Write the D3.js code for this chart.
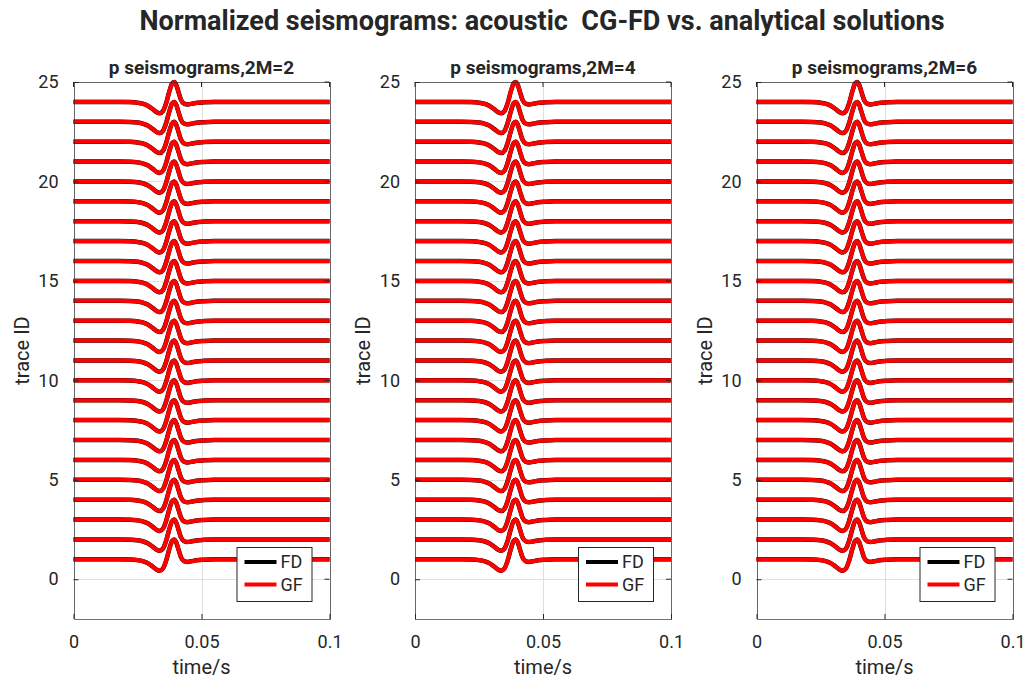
<!DOCTYPE html>
<html>
<head>
<meta charset="utf-8">
<script src="https://cdn.jsdelivr.net/npm/d3@7"></script>
<style>
  body { margin: 0; background: #fff; }
  text { font-family: Roboto, "Liberation Sans", sans-serif; fill: #262626; white-space: pre; }
</style>
</head>
<body>
<svg id="fig" width="1027" height="684"></svg>
<script>
// chart data
var figTitle = "Normalized seismograms: acoustic  CG-FD vs. analytical solutions";
var panelTitles = ["p seismograms,2M=2", "p seismograms,2M=4", "p seismograms,2M=6"];
var traceIds = [1, 2, 3, 4, 5, 6, 7, 8, 9, 10, 11, 12, 13, 14, 15, 16, 17, 18, 19, 20, 21, 22, 23, 24];
var xTicks = [0, 0.05, 0.1];
var xTickLabels = ["0", "0.05", "0.1"];
var yTicks = [0, 5, 10, 15, 20, 25];
var legendNames = ["FD", "GF"];

// normalized wavelet (time in s, amplitude)
var waveTime = [0, 0.018, 0.022, 0.025, 0.027, 0.029, 0.031, 0.0325, 0.0337, 0.035, 0.0362,
                0.0375, 0.0385, 0.0393, 0.0401, 0.041, 0.042, 0.0432, 0.0446, 0.046, 0.048,
                0.051, 0.055, 0.1];
var waveFD = [0, 0, -0.01, -0.04, -0.09, -0.19, -0.37, -0.52, -0.57, -0.45, -0.06,
              0.55, 0.92, 1.0, 0.86, 0.5, 0.1, -0.09, -0.13, -0.1, -0.05,
              -0.02, 0, 0];
var waveGF = [0, 0, -0.01, -0.04, -0.09, -0.19, -0.37, -0.52, -0.57, -0.45, -0.06,
              0.55, 0.92, 1.0, 0.86, 0.5, 0.1, -0.09, -0.13, -0.1, -0.05,
              -0.02, 0, 0];

var svg = d3.select("#fig");
var axLefts = [73.5, 415, 756.5];
var axW = 256, axTop = 82, axBottom = 619;
var axisColor = "#262626";

svg.append("text")
    .attr("x", 542)
    .attr("y", 30)
    .attr("text-anchor", "middle")
    .style("font-size", "27px")
    .style("font-weight", "bold")
    .text(figTitle);

panelTitles.forEach(function(title, p) {
    var left = axLefts[p];
    var x = d3.scaleLinear().domain([0, 0.1]).range([left, left + axW]);
    var y = d3.scaleLinear().domain([-2, 25]).range([axBottom, axTop]);
    var g = svg.append("g");

    // grid
    g.selectAll(".gx").data(xTicks).enter().append("line")
        .attr("x1", function(d) { return Math.round(x(d)) + 0.5; })
        .attr("x2", function(d) { return Math.round(x(d)) + 0.5; })
        .attr("y1", axTop).attr("y2", axBottom)
        .attr("stroke", "#dfdfdf").attr("stroke-width", 1);
    g.selectAll(".gy").data(yTicks).enter().append("line")
        .attr("y1", function(d) { return Math.round(y(d)) + 0.5; })
        .attr("y2", function(d) { return Math.round(y(d)) + 0.5; })
        .attr("x1", left).attr("x2", left + axW)
        .attr("stroke", "#dfdfdf").attr("stroke-width", 1);

    // traces: FD (black) under GF (red)
    var line = d3.line()
        .x(function(d, i) { return x(waveTime[i]); })
        .y(function(d) { return d; })
        .curve(d3.curveMonotoneX);

    traceIds.forEach(function(id) {
        g.append("path")
            .attr("d", line(waveFD.map(function(a) { return y(id + a); })))
            .attr("fill", "none")
            .attr("stroke", "#000")
            .attr("stroke-width", 4.5)
            .attr("stroke-linejoin", "round");
    });
    traceIds.forEach(function(id) {
        g.append("path")
            .attr("d", line(waveGF.map(function(a) { return y(id + a); })))
            .attr("fill", "none")
            .attr("stroke", "#ff0000")
            .attr("stroke-width", 4.1)
            .attr("stroke-linejoin", "round");
    });

    // box
    g.append("rect")
        .attr("x", Math.round(left) + 0.5).attr("y", axTop + 0.5)
        .attr("width", axW).attr("height", axBottom - axTop)
        .attr("fill", "none").attr("stroke", axisColor).attr("stroke-width", 1)
        .attr("stroke-opacity", 0.65);

    // axes with inward ticks
    var xAxis = d3.axisBottom(x).tickValues(xTicks)
        .tickFormat(function(d, i) { return xTickLabels[i]; })
        .tickSizeInner(-5).tickSizeOuter(0).tickPadding(16);
    var gx = g.append("g").attr("transform", "translate(0," + axBottom + ")").call(xAxis);
    var yAxis = d3.axisLeft(y).tickValues(yTicks)
        .tickSizeInner(-5).tickSizeOuter(0).tickPadding(15);
    var gy = g.append("g").attr("transform", "translate(" + left + ",0)").call(yAxis);
    [gx, gy].forEach(function(ax) {
        ax.select(".domain").remove();
        ax.selectAll(".tick line").attr("stroke", axisColor);
        ax.selectAll(".tick text").style("font-size", "18px").attr("fill", "#262626");
    });
    // ticks on top and right
    g.selectAll(".tt").data(xTicks).enter().append("line")
        .attr("x1", function(d) { return x(d); }).attr("x2", function(d) { return x(d); })
        .attr("y1", axTop).attr("y2", axTop + 5).attr("stroke", axisColor);
    g.selectAll(".tr").data(yTicks).enter().append("line")
        .attr("y1", function(d) { return y(d); }).attr("y2", function(d) { return y(d); })
        .attr("x1", left + axW).attr("x2", left + axW - 5).attr("stroke", axisColor);

    // labels
    g.append("text")
        .attr("x", left + axW / 2).attr("y", 74)
        .attr("text-anchor", "middle")
        .style("font-size", "19px").style("font-weight", "bold")
        .text(title);
    g.append("text")
        .attr("x", left + axW / 2).attr("y", 674)
        .attr("text-anchor", "middle")
        .style("font-size", "20px")
        .text("time/s");
    g.append("text")
        .attr("transform", "translate(" + (left - 45) + "," + ((axTop + axBottom) / 2) + ") rotate(-90)")
        .attr("text-anchor", "middle")
        .style("font-size", "20px")
        .text("trace ID");

    // legend
    var lx = left + axW - 18 - 75, ly = 547;
    var leg = g.append("g").attr("transform", "translate(" + lx + "," + ly + ")");
    leg.append("rect")
        .attr("x", 0.5).attr("y", 0.5).attr("width", 75).attr("height", 54)
        .attr("fill", "#fff").attr("stroke", axisColor).attr("stroke-width", 1);
    legendNames.forEach(function(name, i) {
        var yy = 15 + i * 22.5;
        leg.append("line")
            .attr("x1", 8).attr("x2", 40).attr("y1", yy).attr("y2", yy)
            .attr("stroke", i === 0 ? "#000" : "#ff0000").attr("stroke-width", 4);
        leg.append("text")
            .attr("x", 44).attr("y", yy + 6)
            .style("font-size", "18px")
            .text(name);
    });
});
</script>
</body>
</html>
